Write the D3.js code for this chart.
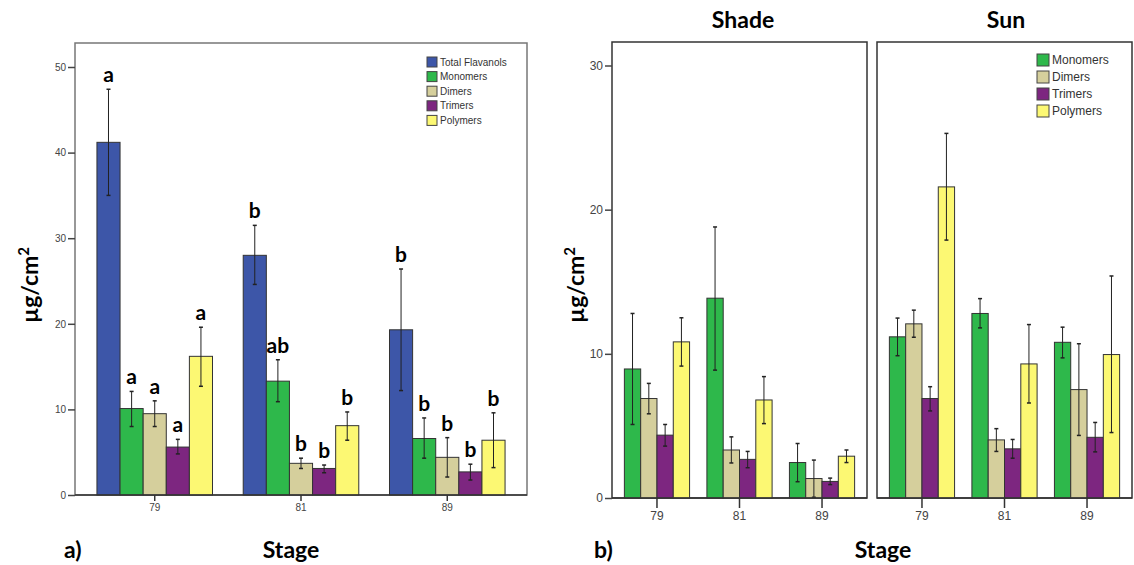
<!DOCTYPE html>
<html>
<head>
<meta charset="utf-8">
<script src="https://cdn.jsdelivr.net/npm/d3@7"></script>
<style>
  body { margin: 0; background: #fff; }
  .tick text { font-family: "Liberation Sans", Arial, sans-serif; fill: #444; }
  .big { font-family: Lato, "Open Sans", sans-serif; font-weight: bold; fill: #000; }
</style>
</head>
<body>
<div class="chart"></div>
<script>
var W = 1134, H = 565;

var stages = ["79", "81", "89"];

// panel a)
var seriesA = ["Total Flavanols", "Monomers", "Dimers", "Trimers", "Polymers"];
var meanA = [[41.2, 28.0, 19.3], [10.1, 13.3, 6.6], [9.5, 3.7, 4.4], [5.6, 3.1, 2.7], [16.2, 8.1, 6.4]];
var lowA  = [[35.0, 24.6, 12.2], [8.0, 10.9, 4.3], [8.0, 3.1, 2.1], [4.8, 2.6, 1.75], [12.7, 6.4, 3.2]];
var highA = [[47.4, 31.5, 26.4], [12.1, 15.8, 9.0], [11.0, 4.3, 6.7], [6.5, 3.5, 3.6], [19.6, 9.7, 9.6]];
var lettersA = [["a", "b", "b"], ["a", "ab", "b"], ["a", "b", "b"], ["a", "b", "b"], ["a", "b", "b"]];
var ticksA = [0, 10, 20, 30, 40, 50];

// panel b)
var seriesB = ["Monomers", "Dimers", "Trimers", "Polymers"];
var shadeMean = [[8.95, 13.86, 2.46], [6.9, 3.33, 1.35], [4.36, 2.68, 1.15], [10.83, 6.8, 2.9]];
var shadeLow  = [[5.1, 8.87, 1.13], [5.84, 2.43, 0.05], [3.6, 2.1, 0.93], [9.15, 5.16, 2.46]];
var shadeHigh = [[12.8, 18.8, 3.78], [7.95, 4.24, 2.63], [5.1, 3.23, 1.38], [12.5, 8.42, 3.33]];
var sunMean = [[11.18, 12.8, 10.8], [12.08, 4.03, 7.52], [6.9, 3.41, 4.21], [21.58, 9.3, 9.95]];
var sunLow  = [[9.87, 11.8, 9.72], [11.15, 3.23, 4.34], [6.04, 2.76, 3.2], [17.89, 6.59, 4.54]];
var sunHigh = [[12.48, 13.83, 11.85], [13.03, 4.81, 10.7], [7.72, 4.06, 5.24], [25.29, 12.03, 15.4]];
var ticksB = [0, 10, 20, 30];

var colors = {
  "Total Flavanols": "#3D56A8",
  "Monomers": "#2EB84B",
  "Dimers": "#D5CF9C",
  "Trimers": "#7D2680",
  "Polymers": "#FCF873"
};

var svg = d3.select(".chart").append("svg")
    .attr("width", W)
    .attr("height", H);

// draws one grouped-bar panel
function panel(o) {
  var g = svg.append("g");
  var x0 = d3.scaleBand().domain(stages).range([o.left, o.right]).paddingInner(0.21).paddingOuter(0.15);
  var x1 = d3.scaleBand().domain(o.series).range([0, x0.bandwidth()]);
  var y = o.y;

  // frame
  g.append("rect")
    .attr("x", o.left).attr("y", o.top)
    .attr("width", o.right - o.left).attr("height", y(0) - o.top)
    .attr("fill", "none").attr("stroke", o.frame).attr("stroke-width", 1.5);

  o.series.forEach(function (s, si) {
    stages.forEach(function (st, i) {
      var bx = x0(st) + x1(s);
      var v = o.mean[si][i];
      g.append("rect")
        .attr("x", bx).attr("y", y(v))
        .attr("width", x1.bandwidth()).attr("height", y(0) - y(v))
        .attr("fill", colors[s]).attr("stroke", "#333").attr("stroke-width", 1);
      var cx = bx + x1.bandwidth() / 2;
      var lo = y(o.low[si][i]), hi = y(o.high[si][i]);
      g.append("line").attr("x1", cx).attr("x2", cx).attr("y1", lo).attr("y2", hi)
        .attr("stroke", "#222").attr("stroke-width", 1);
      [lo, hi].forEach(function (yy) {
        g.append("line").attr("x1", cx - 2).attr("x2", cx + 2).attr("y1", yy).attr("y2", yy)
          .attr("stroke", "#222").attr("stroke-width", 1.5);
      });
      if (o.letters) {
        g.append("text").attr("class", "big")
          .attr("x", cx).attr("y", hi - 7)
          .attr("text-anchor", "middle")
          .attr("font-size", "21px")
          .text(o.letters[si][i]);
      }
    });
  });

  // x axis
  var xa = g.append("g")
    .attr("transform", "translate(0," + y(0) + ")")
    .call(d3.axisBottom(x0).tickSizeOuter(0).tickSize(o.tick).tickPadding(3));
  xa.select(".domain").attr("stroke", "#333").attr("stroke-width", 1.5)
    .attr("d", "M" + o.left + ",0H" + o.right);
  xa.selectAll(".tick line").attr("stroke", "#333").attr("stroke-width", 1.5);
  xa.selectAll(".tick text").attr("font-size", o.fs + "px");

  if (o.yaxis) {
    var ya = g.append("g")
      .attr("transform", "translate(" + o.left + ",0)")
      .call(d3.axisLeft(y).tickValues(o.ticks).tickSize(7).tickPadding(2).tickFormat(d3.format("d")));
    ya.select(".domain").remove();
    ya.selectAll(".tick line").attr("stroke", "#444").attr("stroke-width", 1.5);
    ya.selectAll(".tick text").attr("font-size", o.fs + "px");
  }
  return g;
}

function legend(x, y0, step, sw, fs, series) {
  var lg = svg.append("g");
  series.forEach(function (s, i) {
    lg.append("rect").attr("x", x).attr("y", y0 + i * step - sw / 2)
      .attr("width", sw).attr("height", sw)
      .attr("fill", colors[s]).attr("stroke", "#444").attr("stroke-width", 1);
    lg.append("text").attr("x", x + sw + 3).attr("y", y0 + i * step)
      .attr("dy", "0.35em")
      .attr("font-family", "Liberation Sans, Arial, sans-serif")
      .attr("font-size", fs + "px").attr("fill", "#333")
      .text(s);
  });
}

function yTitle(x, y) {
  var t = svg.append("text").attr("class", "big")
    .attr("transform", "translate(" + x + "," + y + ") rotate(-90)")
    .attr("text-anchor", "middle")
    .attr("font-size", "23px");
  t.append("tspan").text("µg/cm");
  t.append("tspan").attr("dy", "-9").attr("font-size", "15px").text("2");
}

function label(x, y, s, anchor) {
  svg.append("text").attr("class", "big")
    .attr("x", x).attr("y", y)
    .attr("text-anchor", anchor || "middle")
    .attr("font-size", "23px")
    .text(s);
}

// ---- panel a ----
var yA = d3.scaleLinear().domain([0, 50]).range([495, 67]);
panel({ left: 75, right: 527, top: 43, y: yA, series: seriesA, mean: meanA, low: lowA, high: highA,
        letters: lettersA, ticks: ticksA, yaxis: true, tick: 6, fs: 10, frame: "#777" });
legend(427, 62, 14.6, 10, 10, seriesA);
yTitle(38, 285);
label(64, 558, "a)", "start");
label(291, 558, "Stage");

// ---- panel b ----
var yB = d3.scaleLinear().domain([0, 30]).range([498, 65.5]);
panel({ left: 612, right: 867, top: 42, y: yB, series: seriesB, mean: shadeMean, low: shadeLow, high: shadeHigh,
        ticks: ticksB, yaxis: true, tick: 10, fs: 12, frame: "#333" });
panel({ left: 877, right: 1132, top: 42, y: yB, series: seriesB, mean: sunMean, low: sunLow, high: sunHigh,
        ticks: ticksB, yaxis: false, tick: 10, fs: 12, frame: "#333" });
legend(1037, 60, 17, 12, 12, seriesB);
yTitle(584, 285);
label(594, 558, "b)", "start");
label(883, 558, "Stage");
label(743, 28, "Shade");
label(1006, 28, "Sun");
</script>
</body>
</html>
